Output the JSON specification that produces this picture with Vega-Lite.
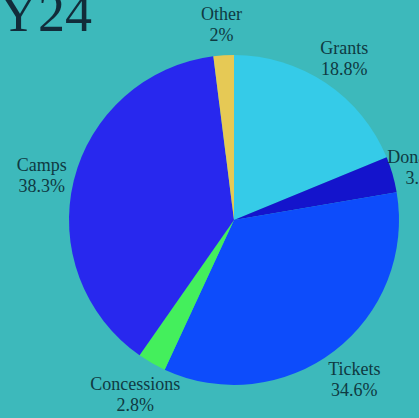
{
  "$schema": "https://vega.github.io/schema/vega-lite/v6.json",
  "autosize": {"type": "none"},
  "width": 370,
  "height": 396,
  "padding": {"left": 49, "top": 22, "right": 0, "bottom": 0},
  "background": "#3db9bb",
  "title": {
    "text": "FY24",
    "anchor": "start",
    "frame": "group",
    "dx": -80,
    "dy": 83,
    "baseline": "alphabetic",
    "font": "Liberation Serif",
    "fontSize": 54,
    "fontWeight": "normal",
    "color": "#122c3a"
  },
  "config": {"view": {"stroke": null}},
  "data": {
    "values": [
      {"category": "Grants", "value": 18.8, "order": 1, "label": "Grants\n18.8%"},
      {"category": "Donations", "value": 3.5, "order": 2, "label": "Donations\n3.5%"},
      {"category": "Tickets", "value": 34.6, "order": 3, "label": "Tickets\n34.6%"},
      {"category": "Concessions", "value": 2.8, "order": 4, "label": "Concessions\n2.8%"},
      {"category": "Camps", "value": 38.3, "order": 5, "label": "Camps\n38.3%"},
      {"category": "Other", "value": 2.0, "order": 6, "label": "Other\n2%"}
    ]
  },
  "encoding": {
    "theta": {"field": "value", "type": "quantitative", "stack": true},
    "order": {"field": "order", "type": "quantitative"},
    "color": {
      "field": "category",
      "type": "nominal",
      "legend": null,
      "scale": {
        "domain": ["Grants", "Donations", "Tickets", "Concessions", "Camps", "Other"],
        "range": ["#35cbe8", "#1414cc", "#0d4cfb", "#44ef5c", "#2828ee", "#e6c955"]
      }
    }
  },
  "layer": [
    {"mark": {"type": "arc", "outerRadius": 165}},
    {
      "mark": {
        "type": "text",
        "radius": 198,
        "dy": -7,
        "font": "Liberation Serif",
        "fontSize": 18,
        "lineBreak": "\n",
        "lineHeight": 21,
        "baseline": "middle",
        "align": "center",
        "fill": "#0f3a42"
      },
      "encoding": {
        "text": {"field": "label"},
        "color": {"value": "#0f3a42"}
      }
    }
  ]
}
